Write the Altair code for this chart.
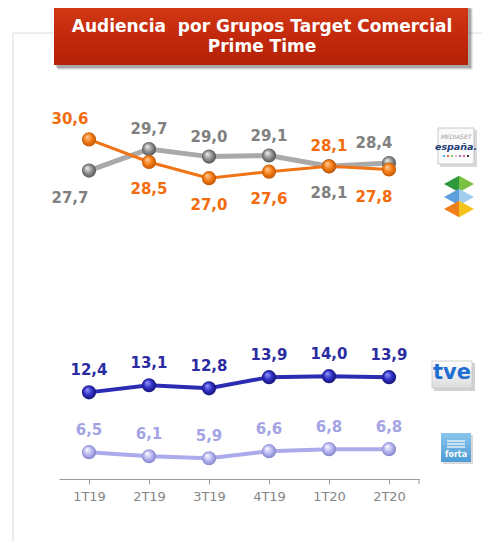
import altair as alt
import pandas as pd

quarters = ["1T19", "2T19", "3T19", "4T19", "1T20", "2T20"]
mediaset = [27.7, 29.7, 29.0, 29.1, 28.1, 28.4]
atresmedia = [30.6, 28.5, 27.0, 27.6, 28.1, 27.8]
rtve = [12.4, 13.1, 12.8, 13.9, 14.0, 13.9]
forta = [6.5, 6.1, 5.9, 6.6, 6.8, 6.8]
series_names = ["Mediaset", "Atresmedia", "RTVE", "FORTA"]
title_lines = ["Audiencia\u00a0 por Grupos Target Comercial", "Prime Time"]

FONT = "DejaVu Sans"
W, H = 360, 399

rows = []
for s, vals in zip(series_names, [mediaset, atresmedia, rtve, forta]):
    for i, (q, v) in enumerate(zip(quarters, vals)):
        if s in ("Mediaset", "Atresmedia"):
            other = atresmedia[i] if s == "Mediaset" else mediaset[i]
            above = v > other if s == "Mediaset" else v >= other
            ldy = -20 if above else 27
            ldx = -19 if i == 0 else (-15 if i == len(quarters) - 1 else 0)
        else:
            ldy, ldx = -22, 0
        rows.append(dict(serie=s, quarter=q, idx=i, value=v,
                         label=f"{v:.1f}".replace(".", ","), ldx=ldx, ldy=ldy))
df = pd.DataFrame(rows)

yscale = alt.Scale(domain=[5, 15, 26, 31], range=[387.4, 286.0, 108.9, 55.1])
x_enc = alt.X("quarter:N", sort=quarters, title=None,
              scale=alt.Scale(domain=quarters, paddingInner=0, paddingOuter=0),
              axis=alt.Axis(bandPosition=0, labelAngle=0,
                            domainColor="#9a9a9a", tickColor="#9a9a9a", tickSize=5,
                            labelColor="#858585", labelFont=FONT, labelFontSize=13,
                            labelPadding=6, grid=False))
y_enc = alt.Y("value:Q", scale=yscale, axis=None)

styles = {
    "Mediaset": dict(line="#a9a9a9", lw=5, lab="#808080",
                     g=["#f2f2f2", "#8e8e8e", "#4a4a4a"]),
    "Atresmedia": dict(line="#f07315", lw=3, lab="#f26b0c",
                       g=["#ffd0a0", "#f27a12", "#b84e00"]),
    "RTVE": dict(line="#2c2cb2", lw=4, lab="#2b2ba2",
                 g=["#9a9aff", "#2e2ec4", "#101068"]),
    "FORTA": dict(line="#ababec", lw=4, lab="#a4a4e4",
                  g=["#ffffff", "#b4b4f0", "#7c7cc4"]),
}

one = pd.DataFrame({"k": [0]})
layers = []

# frame
layers.append(alt.Chart(one).mark_rule(color="#dcdcdc", strokeWidth=1).encode(
    x=alt.value(-46), x2=alt.value(423), y=alt.value(-47)))
layers.append(alt.Chart(one).mark_rule(color="#dcdcdc", strokeWidth=1).encode(
    x=alt.value(-46), y=alt.value(-47), y2=alt.value(462)))

# title box
for off, op in [(5, 0.08), (4, 0.12), (3, 0.18)]:
    layers.append(alt.Chart(one).mark_rect(color="#000000", opacity=op).encode(
        x=alt.value(-5 + off - 1), x2=alt.value(409 + off), y=alt.value(-75 + off - 1), y2=alt.value(-15 + off)))
layers.append(alt.Chart(one).mark_rect(
    fill=alt.LinearGradient(gradient="linear", x1=0, x2=0, y1=0, y2=1,
                            stops=[alt.GradientStop(color="#d23a14", offset=0),
                                   alt.GradientStop(color="#c3290c", offset=0.5),
                                   alt.GradientStop(color="#b52208", offset=1)])).encode(
    x=alt.value(-5), x2=alt.value(409), y=alt.value(-75), y2=alt.value(-15)))
for ln, yy in zip(title_lines, [-53, -33]):
    layers.append(alt.Chart(one).mark_text(font=FONT, fontWeight="bold", fontSize=17,
                                           color="#ffffff", baseline="middle", align="center").encode(
        x=alt.value(203), y=alt.value(yy), text=alt.value(ln)))

# x-axis last tick
layers.append(alt.Chart(one).mark_rule(color="#9a9a9a").encode(
    x=alt.value(360), y=alt.value(H), y2=alt.value(H + 5)))

# series lines
for s in series_names:
    st = styles[s]
    base = alt.Chart(df).transform_filter(alt.datum.serie == s)
    layers.append(base.mark_line(color=st["line"], strokeWidth=st["lw"]).encode(
        x=x_enc, y=y_enc, order="idx:Q"))
# markers and labels
for s in series_names:
    st = styles[s]
    base = alt.Chart(df).transform_filter(alt.datum.serie == s)
    grad = alt.RadialGradient(gradient="radial", x1=0.36, y1=0.3, r1=0.0, x2=0.5, y2=0.5, r2=0.55,
                              stops=[alt.GradientStop(color=st["g"][0], offset=0),
                                     alt.GradientStop(color=st["g"][1], offset=0.55),
                                     alt.GradientStop(color=st["g"][2], offset=1)])
    layers.append(base.mark_circle(size=200, fill=grad, opacity=1, fillOpacity=1).encode(
        x=x_enc, y=y_enc))
    sub = df[df.serie == s]
    for (ldx, ldy) in sorted(set(zip(sub.ldx, sub.ldy))):
        layers.append(
            alt.Chart(df)
            .transform_filter((alt.datum.serie == s) & (alt.datum.ldx == int(ldx)) & (alt.datum.ldy == int(ldy)))
            .mark_text(font=FONT, fontWeight="bold", fontSize=15, color=st["lab"],
                       baseline="middle", align="center", dx=int(ldx), dy=int(ldy))
            .encode(x=x_enc, y=y_enc, text="label:N"))

# logos (decorative)
# Mediaset
layers.append(alt.Chart(one).mark_rect(color="#000000", opacity=0.15).encode(
    x=alt.value(381), x2=alt.value(418), y=alt.value(50), y2=alt.value(87)))
layers.append(alt.Chart(one).mark_rect(fill="#fafafa", stroke="#c8c8c8", strokeWidth=1).encode(
    x=alt.value(379), x2=alt.value(415), y=alt.value(48), y2=alt.value(84)))
layers.append(alt.Chart(one).mark_text(font=FONT, fontSize=6, fontStyle="italic", color="#a0a0a0").encode(
    x=alt.value(397), y=alt.value(57), text=alt.value("MEDIASET")))
layers.append(alt.Chart(one).mark_text(font=FONT, fontSize=9.5, fontStyle="italic", fontWeight="bold",
                                       color="#203c78").encode(
    x=alt.value(397), y=alt.value(67), text=alt.value("españa.")))
for j, c in enumerate(["#29a9e0", "#e8412c", "#6cbd45", "#f29fc5", "#a05ba5", "#e03c8c", "#111111"]):
    layers.append(alt.Chart(one).mark_circle(size=5, color=c, opacity=1).encode(
        x=alt.value(385 + 4 * j), y=alt.value(76)))
# Atresmedia
left_half = "M-1,0L0,-0.55L0,0.55Z"
right_half = "M0,-0.55L1,0L0,0.55Z"
for yy, cl, cr in [(104, "#2f9a3c", "#79c043"), (117, "#5d9fdc", "#a3cdef"), (129, "#ef7f1a", "#f6c21c")]:
    layers.append(alt.Chart(one).mark_point(shape=left_half, size=900, filled=True, color=cl, opacity=1).encode(
        x=alt.value(400), y=alt.value(yy)))
    layers.append(alt.Chart(one).mark_point(shape=right_half, size=900, filled=True, color=cr, opacity=1).encode(
        x=alt.value(400), y=alt.value(yy)))
# tve
layers.append(alt.Chart(one).mark_rect(color="#000000", opacity=0.18).encode(
    x=alt.value(375), x2=alt.value(416), y=alt.value(283), y2=alt.value(311)))
layers.append(alt.Chart(one).mark_rect(
    fill=alt.LinearGradient(gradient="linear", x1=0, x2=0, y1=0, y2=1,
                            stops=[alt.GradientStop(color="#ffffff", offset=0),
                                   alt.GradientStop(color="#dcdcdc", offset=1)]),
    stroke="#cfcfcf").encode(
    x=alt.value(373), x2=alt.value(413), y=alt.value(281), y2=alt.value(308)))
layers.append(alt.Chart(one).mark_text(font=FONT, fontSize=21, fontWeight="bold", color="#1f6fd2",
                                       baseline="middle").encode(
    x=alt.value(393), y=alt.value(293), text=alt.value("tve")))
# forta
layers.append(alt.Chart(one).mark_rect(color="#000000", opacity=0.15).encode(
    x=alt.value(384), x2=alt.value(414), y=alt.value(355), y2=alt.value(384)))
layers.append(alt.Chart(one).mark_rect(
    fill=alt.LinearGradient(gradient="linear", x1=0, x2=0, y1=0, y2=1,
                            stops=[alt.GradientStop(color="#8cc6ec", offset=0),
                                   alt.GradientStop(color="#4d9bd6", offset=1)])).encode(
    x=alt.value(382), x2=alt.value(412), y=alt.value(353), y2=alt.value(382)))
for yy in [361, 364, 367]:
    layers.append(alt.Chart(one).mark_rule(color="#ffffff", strokeWidth=1.2).encode(
        x=alt.value(388), x2=alt.value(406), y=alt.value(yy)))
layers.append(alt.Chart(one).mark_text(font=FONT, fontSize=8, fontWeight="bold", color="#ffffff",
                                       baseline="middle").encode(
    x=alt.value(397), y=alt.value(375), text=alt.value("forta")))

chart = alt.layer(*layers).properties(
    width=W, height=H,
    autosize=alt.AutoSizeParams(type="none"),
    padding={"left": 51, "top": 72, "right": 63, "bottom": 63},
    background="#ffffff",
).configure_view(stroke=None)

chart.save("out.html", embed_options={"renderer": "svg", "actions": False})
